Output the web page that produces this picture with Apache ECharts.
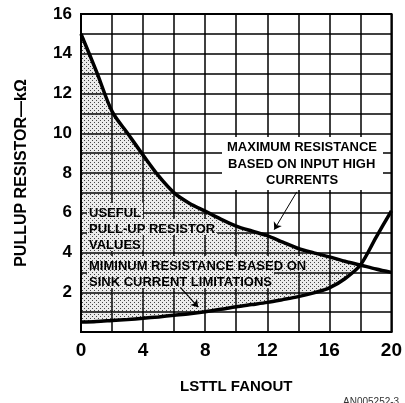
<!DOCTYPE html>
<html>
<head>
<meta charset="utf-8">
<script src="https://cdn.jsdelivr.net/npm/echarts@6/dist/echarts.min.js"></script>
<style>
  html, body { margin: 0; padding: 0; background: #fff; }
  #chart { width: 405px; height: 403px; }
</style>
</head>
<body>
<div id="chart"></div>
<script>
// LSTTL fanout (x) and the two resistance limits in kOhm
const fanout = [0, 1, 2, 3, 4, 5, 6, 7, 8, 9, 10, 11, 12, 13, 14, 15, 16, 17, 18, 19, 20];
const maxResistance = [15, 13.1, 11.1, 10, 8.9, 7.85, 7.0, 6.47, 6.08, 5.68, 5.33, 5.08, 4.85, 4.52, 4.2, 3.98, 3.78, 3.56, 3.37, 3.17, 3.0];
const minResistance = [0.5, 0.53, 0.58, 0.63, 0.69, 0.76, 0.84, 0.92, 1.02, 1.14, 1.27, 1.38, 1.49, 1.63, 1.78, 1.97, 2.22, 2.68, 3.37, 4.75, 6.1];
const xTickLabels = [0, 4, 8, 12, 16, 20];
const yTickLabels = [2, 4, 6, 8, 10, 12, 14, 16];

const FONT = '"Liberation Sans", Arial, sans-serif';
const NOTE_FONT = 'bold 13px ' + FONT;
const LINE_H = 16;

// stipple pattern for the useful region
function makeStipple(bg) {
  const c = document.createElement('canvas');
  c.width = 4; c.height = 4;
  const ctx = c.getContext('2d');
  ctx.fillStyle = bg;
  ctx.fillRect(0, 0, 4, 4);
  ctx.fillStyle = '#444';
  ctx.fillRect(0, 0, 1, 1);
  ctx.fillRect(2, 2, 1, 1);
  return c;
}
const stipple = makeStipple('rgba(0,0,0,0.08)');
const stippleSolid = makeStipple('#ebebeb');

// band where max >= min
const bandTop = [], bandBottom = [];
fanout.forEach((x, i) => {
  if (maxResistance[i] >= minResistance[i]) {
    bandTop.push([x, maxResistance[i]]);
    bandBottom.push([x, minResistance[i]]);
  }
});

const measure = document.createElement('canvas').getContext('2d');
measure.font = NOTE_FONT;
const textW = t => measure.measureText(t).width;

// notes sitting in the band: the grid is hidden behind each line of text
const notes = [
  { lines: ['USEFUL', 'PULL-UP RESISTOR', 'VALUES'], left: 89, top: 203 },
  { lines: ['MIMINUM RESISTANCE BASED ON', 'SINK CURRENT LIMITATIONS'], left: 89, top: 256 }
];
const masks = [];
notes.forEach(n => n.lines.forEach((t, i) => {
  masks.push({ x: n.left - 2, y: n.top + i * LINE_H, width: textW(t) + 4, height: LINE_H });
}));

// boxed note, each line centred on x = 302
const boxLines = ['MAXIMUM RESISTANCE', 'BASED ON INPUT HIGH', 'CURRENTS'];

const chart = echarts.init(document.getElementById('chart'));
const option = {
  animation: false,
  grid: {
    left: 81, right: 11, top: 14, bottom: 71,
    show: true, borderColor: '#000', borderWidth: 2, backgroundColor: 'transparent'
  },
  xAxis: {
    type: 'value', min: 0, max: 20, interval: 2,
    name: 'LSTTL FANOUT', nameLocation: 'middle', nameGap: 47,
    nameTextStyle: { fontFamily: FONT, fontWeight: 'bold', fontSize: 15, color: '#000' },
    axisLine: { show: true, lineStyle: { color: '#000', width: 2 } },
    axisTick: { show: false },
    axisLabel: {
      margin: 9, fontFamily: FONT, fontWeight: 'bold', fontSize: 19, color: '#000',
      formatter: v => xTickLabels.includes(v) ? String(v) : ''
    },
    splitLine: { show: true, lineStyle: { color: '#000', width: 1.5 } }
  },
  yAxis: {
    type: 'value', min: 0, max: 16, interval: 1,
    name: 'PULLUP RESISTOR\u2014k\u03A9', nameLocation: 'middle', nameGap: 51,
    nameTextStyle: { fontFamily: FONT, fontWeight: 'bold', fontSize: 16, color: '#000' },
    axisLine: { show: true, lineStyle: { color: '#000', width: 2 } },
    axisTick: { show: false },
    axisLabel: {
      margin: 9, fontFamily: FONT, fontWeight: 'bold', fontSize: 17, color: '#000',
      formatter: v => yTickLabels.includes(v) ? String(v) : ''
    },
    splitLine: { show: true, lineStyle: { color: '#000', width: 1.5 } }
  },
  series: [
    {
      name: 'useful', type: 'custom', z: 1, silent: true, clip: true,
      data: [0],
      renderItem: (params, api) => {
        const pts = bandTop.map(p => api.coord(p))
          .concat(bandBottom.slice().reverse().map(p => api.coord(p)));
        const children = [{
          type: 'polygon',
          shape: { points: pts },
          style: { fill: { image: stipple, repeat: 'repeat' }, stroke: null }
        }];
        masks.forEach(m => children.push({
          type: 'rect', shape: m,
          style: { fill: { image: stippleSolid, repeat: 'repeat' }, stroke: null }
        }));
        return { type: 'group', children: children };
      }
    },
    {
      name: 'max', type: 'line', z: 3, smooth: 0.3, showSymbol: false,
      data: fanout.map((x, i) => [x, maxResistance[i]]),
      lineStyle: { color: '#000', width: 3.5 },
      markLine: {
        silent: true, symbol: ['none', 'arrow'], symbolSize: 7,
        label: { show: false },
        lineStyle: { color: '#000', width: 1, type: 'solid' },
        data: [[{ coord: [13.9, 7.05] }, { coord: [12.45, 5.15] }]]
      }
    },
    {
      name: 'min', type: 'line', z: 3, smooth: 0.3, showSymbol: false,
      data: fanout.map((x, i) => [x, minResistance[i]]),
      lineStyle: { color: '#000', width: 3.5 },
      markLine: {
        silent: true, symbol: ['none', 'arrow'], symbolSize: 7,
        label: { show: false },
        lineStyle: { color: '#000', width: 1.2, type: 'solid' },
        data: [[{ coord: [6.4, 2.25] }, { coord: [7.55, 1.25] }]]
      }
    }
  ],
  graphic: [
    { type: 'rect', z: 100, shape: { x: 222, y: 137, width: 161, height: 53 }, style: { fill: '#fff' } },
    ...boxLines.map((t, i) => ({
      type: 'text', z: 101, left: Math.round(302 - textW(t) / 2), top: 141 + i * 16.5,
      style: { text: t, font: NOTE_FONT, fill: '#000' }
    })),
    ...notes.map(n => ({
      type: 'text', z: 101, left: n.left, top: n.top + 2,
      style: { text: n.lines.join('\n'), font: NOTE_FONT, fill: '#000', lineHeight: LINE_H }
    })),
    {
      type: 'text', z: 101, left: 343, top: 397,
      style: { text: 'AN005252-3', font: '10px ' + FONT, fill: '#333' }
    }
  ]
};
chart.setOption(option);
</script>
</body>
</html>
